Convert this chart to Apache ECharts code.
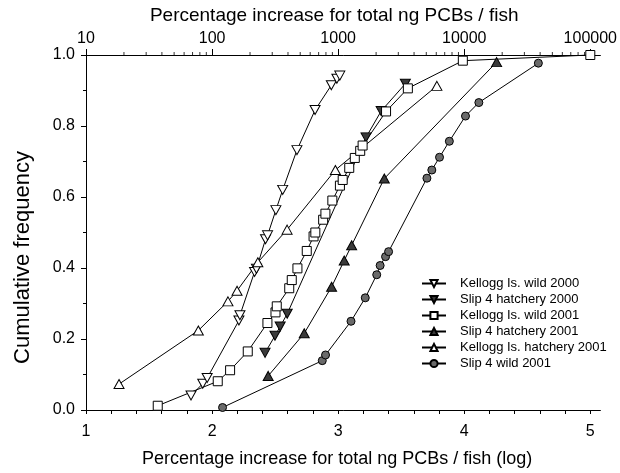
<!DOCTYPE html>
<html>
<head>
<meta charset="utf-8">
<script src="https://cdn.jsdelivr.net/npm/echarts@6/dist/echarts.min.js"></script>
<style>html,body{margin:0;padding:0;background:#fff}#c{width:620px;height:473px}</style>
</head>
<body>
<div id="c"></div>
<script>
// x = log10(percentage increase), y = cumulative frequency
const kelloggWild2000 = [
  [1.833,0.041],[1.926,0.074],[1.961,0.090],[2.213,0.252],[2.221,0.267],
  [2.337,0.389],[2.352,0.398],[2.424,0.481],[2.440,0.492],[2.506,0.563],
  [2.560,0.620],[2.673,0.732],[2.817,0.845],[2.946,0.915],[2.990,0.933],[3.013,0.942]
];
const slip4Hatchery2000 = [
  [2.420,0.161],[2.499,0.209],[2.540,0.235],[2.596,0.271],
  [3.221,0.768],[3.341,0.842],[3.533,0.919]
];
const kelloggWild2001 = [
  [1.569,0.012],[2.045,0.081],[2.143,0.112],[2.283,0.165],[2.439,0.245],
  [2.503,0.275],[2.513,0.292],[2.612,0.343],[2.632,0.366],[2.677,0.399],
  [2.751,0.448],[2.805,0.489],[2.819,0.500],[2.881,0.536],[2.899,0.553],
  [2.954,0.590],[3.014,0.632],[3.036,0.648],[3.088,0.682],[3.132,0.710],
  [3.175,0.730],[3.194,0.745],[3.380,0.841],[3.553,0.906],[3.989,0.984],[5.000,1.000]
];
const slip4Hatchery2001 = [
  [2.445,0.096],[2.731,0.216],[2.948,0.347],[3.048,0.421],[3.107,0.464],
  [3.366,0.652],[4.257,0.980]
];
const kelloggHatchery2001 = [
  [1.262,0.073],[1.891,0.224],[2.126,0.306],[2.198,0.336],[2.363,0.416],
  [2.595,0.508],[2.978,0.676],[3.783,0.913]
];
const slip4Wild2001 = [
  [2.083,0.007],[2.874,0.139],[2.900,0.155],[3.102,0.250],[3.215,0.316],
  [3.306,0.381],[3.333,0.407],[3.376,0.432],[3.400,0.446],[3.704,0.653],
  [3.743,0.676],[3.804,0.712],[3.882,0.757],[4.010,0.828],[4.116,0.866],[4.588,0.977]
];
const seriesNames = [
  'Kellogg Is. wild 2000','Slip 4 hatchery 2000','Kellogg Is. wild 2001',
  'Slip 4 hatchery 2001','Kellogg Is. hatchery 2001','Slip 4 wild 2001'
];
const yTickLabels = ['0.0','0.2','0.4','0.6','0.8','1.0'];
const topTickLabels = ['10','100','1000','10000','100000'];
const bottomTickLabels = ['1','2','3','4','5'];
// top-axis minor (log) ticks: 2..9 times each decade
const topMinorTickValues = [];
[10,100,1000,10000].forEach(d => { for (let k = 2; k <= 9; k++) topMinorTickValues.push(k*d); });

const FONT = 'Liberation Sans, Arial, sans-serif';
const isInt = v => Math.abs(v - Math.round(v)) < 1e-6;

function mkSeries(name, data, symbol, rotate, fill, size) {
  return {
    name, type: 'line', data, xAxisIndex: 0, yAxisIndex: 0,
    symbol, symbolRotate: rotate, symbolSize: size, showAllSymbol: true,
    clip: false, z: 3,
    lineStyle: { color: '#000', width: 1 },
    itemStyle: { color: fill, borderColor: '#000', borderWidth: 1 }
  };
}

const chart = echarts.init(document.getElementById('c'), null, { renderer: 'canvas' });
chart.setOption({
  animation: false,
  backgroundColor: '#fff',
  textStyle: { fontFamily: FONT, color: '#000' },
  grid: { left: 86, top: 55, width: 518, height: 360, containLabel: false },
  legend: {
    orient: 'vertical', left: 416, top: 272,
    itemWidth: 24, itemHeight: 9, itemGap: 3,
    data: seriesNames,
    textStyle: { fontFamily: FONT, fontSize: 13, lineHeight: 12, color: '#000', padding: [0,0,0,9] }
  },
  xAxis: [
    {
      type: 'value', position: 'bottom', min: 1, max: 5.08, interval: 0.2,
      name: 'Percentage increase for total ng PCBs / fish (log)',
      nameLocation: 'middle', nameGap: 40,
      nameTextStyle: { fontFamily: FONT, fontSize: 18, color: '#000', padding: [0, 12, 0, 0] },
      axisLine: { show: true, lineStyle: { color: '#000', width: 1 } },
      axisTick: { show: true, inside: false, length: 4, lineStyle: { color: '#000' } },
      axisLabel: {
        margin: 14, fontSize: 16, color: '#000', fontFamily: FONT,
        showMaxLabel: false,
        formatter: v => isInt(v) ? bottomTickLabels[Math.round(v) - 1] || '' : ''
      },
      splitLine: { show: false }
    },
    {
      type: 'value', position: 'top', min: 1, max: 5.08, interval: 1,
      name: 'Percentage increase for total ng PCBs / fish',
      nameLocation: 'middle', nameGap: 30,
      nameTextStyle: { fontFamily: FONT, fontSize: 19, color: '#000', padding: [0, 18, 0, 0] },
      axisLine: { show: true, lineStyle: { color: '#000', width: 1 } },
      axisTick: { show: true, inside: false, length: 6, lineStyle: { color: '#000' } },
      axisLabel: {
        margin: 8, fontSize: 16, color: '#000', fontFamily: FONT,
        showMaxLabel: false,
        formatter: v => isInt(v) ? topTickLabels[Math.round(v) - 1] || '' : ''
      },
      splitLine: { show: false }
    }
  ],
  yAxis: {
    type: 'value', min: 0, max: 1, interval: 0.2,
    name: 'Cumulative frequency', nameLocation: 'middle', nameGap: 52,
    nameTextStyle: { fontFamily: FONT, fontSize: 22, color: '#000', padding: [0, 50, 0, 0] },
    axisLine: { show: true, lineStyle: { color: '#000', width: 1 } },
    axisTick: { show: true, inside: false, length: 5, lineStyle: { color: '#000' } },
    minorTick: { show: true, splitNumber: 2, length: 3, lineStyle: { color: '#000' } },
    axisLabel: {
      margin: 11, fontSize: 16, color: '#000', fontFamily: FONT,
      formatter: v => yTickLabels[Math.round(v * 5)] || ''
    },
    splitLine: { show: false }
  },
  series: [
    mkSeries(seriesNames[0], kelloggWild2000, 'triangle', 180, '#fff', [10, 9]),
    mkSeries(seriesNames[1], slip4Hatchery2000, 'triangle', 180, '#3a3a3a', [10, 9]),
    mkSeries(seriesNames[2], kelloggWild2001, 'rect', 0, '#fff', 9),
    mkSeries(seriesNames[3], slip4Hatchery2001, 'triangle', 0, '#3a3a3a', [10, 9]),
    mkSeries(seriesNames[4], kelloggHatchery2001, 'triangle', 0, '#fff', [10, 9]),
    mkSeries(seriesNames[5], slip4Wild2001, 'circle', 0, '#6a6a6a', 8),
    {
      name: 'topMinorTicks', type: 'scatter', xAxisIndex: 1, yAxisIndex: 0,
      data: topMinorTickValues.map(v => [Math.log10(v), 1]),
      symbol: 'rect', symbolSize: [1, 3], symbolOffset: [0, -1.5],
      itemStyle: { color: '#000' }, silent: true, clip: false, z: 1,
      emphasis: { disabled: true }, tooltip: { show: false }
    }
  ]
});
</script>
</body>
</html>
